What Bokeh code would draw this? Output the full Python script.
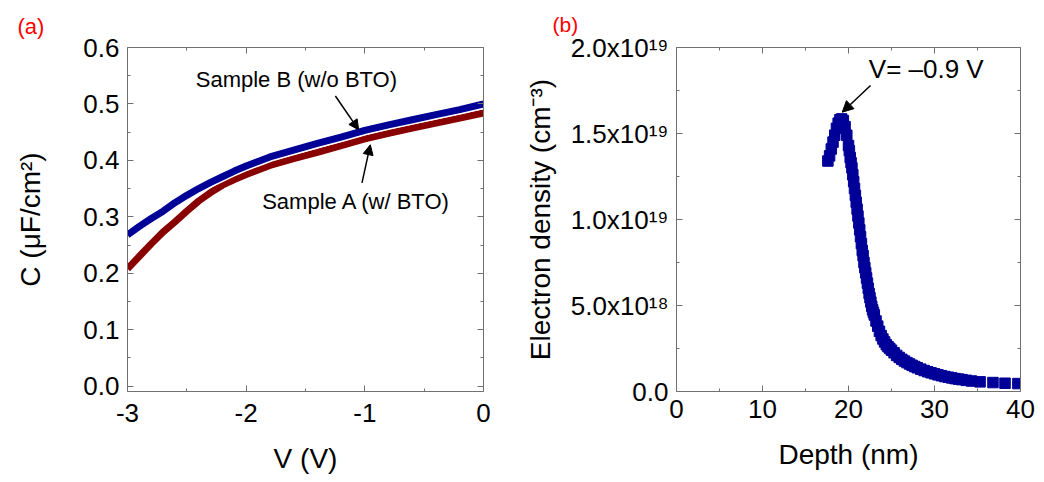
from bokeh.plotting import figure
from bokeh.layouts import row
from bokeh.models import FixedTicker, LinearAxis, Range1d, Label, Arrow, NormalHead, Title
from bokeh.embed import file_html
from bokeh.resources import INLINE

FONT = "'Liberation Sans', Arial, sans-serif"

# ---------------- data: panel (a) C-V ----------------
voltage = [-3.0, -2.9, -2.8, -2.7, -2.6, -2.5, -2.4, -2.3, -2.2, -2.1, -2.0, -1.9, -1.8,
           -1.6, -1.4, -1.2, -1.0, -0.8, -0.6, -0.4, -0.2, 0.0]
cap_sample_b = [0.268, 0.283, 0.297, 0.310, 0.325, 0.338, 0.350, 0.361, 0.371, 0.381, 0.390,
                0.398, 0.406, 0.418, 0.430, 0.441, 0.453, 0.463, 0.472, 0.481, 0.490, 0.500]
cap_sample_a = [0.208, 0.230, 0.252, 0.273, 0.291, 0.310, 0.328, 0.343, 0.356, 0.366, 0.375,
                0.383, 0.391, 0.403, 0.414, 0.426, 0.438, 0.448, 0.457, 0.466, 0.475, 0.484]

# ---------------- data: panel (b) electron density (units of 1e18 cm^-3) ----------------
depth_nm = [17.6, 17.8, 18.0, 18.2, 18.4, 18.6, 18.8, 19.0, 19.2, 19.4, 19.6, 19.8, 20.0,
            20.1, 20.2, 20.3, 20.4, 20.5, 20.6, 20.7, 20.8, 20.9, 21.0, 21.1, 21.2, 21.3,
            21.4, 21.5, 21.6, 21.7, 21.8, 21.9, 22.0, 22.1, 22.2, 22.3, 22.4, 22.5, 22.6,
            22.7, 22.8, 22.9, 23.0, 23.2, 23.4, 23.6, 23.8, 24.0, 24.2, 24.4, 24.6, 24.8,
            25.0, 25.3, 25.6, 25.9, 26.2, 26.5, 26.8, 27.1, 27.4, 27.7, 28.0, 28.4, 28.8,
            29.2, 29.6, 30.0, 30.4, 30.8, 31.2, 31.6, 32.0, 32.4, 32.8, 33.2, 33.7, 34.3,
            35.3, 36.8, 38.2, 39.7]
density_1e18 = [13.4, 13.7, 14.1, 14.5, 14.9, 15.3, 15.6, 15.8, 15.85, 15.75, 15.4, 14.9, 14.3,
                14.0, 13.6, 13.3, 13.0, 12.6, 12.2, 11.8, 11.4, 11.0, 10.6, 10.2, 9.8, 9.4,
                9.0, 8.6, 8.2, 7.9, 7.5, 7.2, 6.9, 6.6, 6.3, 6.0, 5.7, 5.45, 5.2,
                4.95, 4.75, 4.6, 4.45, 4.1, 3.8, 3.5, 3.25, 3.05, 2.88, 2.72, 2.6, 2.5,
                2.4, 2.25, 2.1, 1.98, 1.87, 1.77, 1.68, 1.6, 1.52, 1.45, 1.38, 1.3, 1.22,
                1.15, 1.09, 1.03, 0.97, 0.92, 0.87, 0.83, 0.79, 0.75, 0.72, 0.69, 0.65, 0.61,
                0.56, 0.52, 0.48, 0.46]

# ---------------- ticks ----------------
a_x_major = [-3, -2, -1, 0]
a_x_minor = [-2.5, -1.5, -0.5]
a_x_labels = ["-3", "-2", "-1", "0"]
a_y_major = [0.0, 0.1, 0.2, 0.3, 0.4, 0.5, 0.6]
a_y_minor = [0.05, 0.15, 0.25, 0.35, 0.45, 0.55]
a_y_labels = ["0.0", "0.1", "0.2", "0.3", "0.4", "0.5", "0.6"]
b_x_major = [0, 10, 20, 30, 40]
b_x_minor = [5, 15, 25, 35]
b_x_labels = ["0", "10", "20", "30", "40"]
b_y_major = [0, 5, 10, 15, 20]
b_y_minor = [2.5, 7.5, 12.5, 17.5]
b_y_labels = ["0.0", "5.0x10\u00b9\u2078", "1.0x10\u00b9\u2079", "1.5x10\u00b9\u2079", "2.0x10\u00b9\u2079"]

AX_COLOR = "#707070"


def style_axis(ax, major, minor, labels=None):
    ax.ticker = FixedTicker(ticks=major, minor_ticks=minor)
    ax.axis_line_color = AX_COLOR
    ax.major_tick_line_color = AX_COLOR
    ax.minor_tick_line_color = AX_COLOR
    ax.major_tick_in = 6
    ax.major_tick_out = 0
    ax.minor_tick_in = 3
    ax.minor_tick_out = 0
    ax.major_label_text_font = FONT
    ax.axis_label_text_font = FONT
    ax.axis_label_text_font_style = "normal"
    ax.axis_label_text_color = "black"
    ax.axis_label_text_font_size = "28px"
    if labels is not None:
        ax.major_label_text_color = "black"
        ax.major_label_text_font_size = "26px"
        ax.major_label_overrides = {v: s for v, s in zip(major, labels)}
    else:
        ax.major_label_text_color = None
        ax.major_label_text_font_size = "0px"
        ax.major_label_standoff = 0


def make_fig(width, xr, yr, bl, br, bt, bb, tag, tag_offset, tag_standoff, tag_size):
    p = figure(width=width, height=482, x_range=xr, y_range=yr,
               output_backend="svg", toolbar_location=None,
               min_border_left=bl, min_border_right=br,
               min_border_top=bt, min_border_bottom=bb)
    p.title = Title(text=tag, align="left", vertical_align="top",
                    offset=tag_offset, standoff=tag_standoff,
                    text_color="#ff0000", text_font=FONT, text_font_size=tag_size,
                    text_font_style="normal")
    p.grid.visible = False
    p.outline_line_color = None
    p.background_fill_color = "white"
    p.border_fill_color = "white"
    return p


# ================= panel (a) =================
pa = make_fig(520, Range1d(-3, 0), Range1d(-0.0096, 0.6), 127, 37, 47, 80,
              "(a)", -110, 14, "22px")
style_axis(pa.xaxis[0], a_x_major, a_x_minor, a_x_labels)
style_axis(pa.yaxis[0], a_y_major, a_y_minor, a_y_labels)
pa.xaxis[0].axis_label = "V (V)"
pa.yaxis[0].axis_label = "C (\u03bcF/cm\u00b2)"
pa.xaxis[0].major_label_standoff = 12
pa.xaxis[0].axis_label_standoff = 18
pa.yaxis[0].major_label_standoff = 8
pa.yaxis[0].axis_label_standoff = 34
top_a = LinearAxis()
right_a = LinearAxis()
style_axis(top_a, a_x_major, a_x_minor)
style_axis(right_a, a_y_major, a_y_minor)
pa.add_layout(top_a, "above")
pa.add_layout(right_a, "right")

pa.line(voltage, cap_sample_a, line_color="#880000", line_width=7)
pa.line(voltage, cap_sample_b, line_color="white", line_width=10)
pa.line(voltage, cap_sample_b, line_color="#000096", line_width=7)

pa.add_layout(Label(x=-2.425, y=0.543, text="Sample B (w/o BTO)", text_font=FONT,
                    text_font_size="22px", text_baseline="middle", text_align="left",
                    text_color="black"))
pa.add_layout(Label(x=-1.865, y=0.327, text="Sample A (w/ BTO)", text_font=FONT,
                    text_font_size="22px", text_baseline="middle", text_align="left",
                    text_color="black"))
pa.add_layout(Arrow(end=NormalHead(size=10, fill_color="black", line_color="black"),
                    x_start=-1.248, y_start=0.514, x_end=-1.052, y_end=0.454,
                    line_width=1.5, line_color="black"))
pa.add_layout(Arrow(end=NormalHead(size=10, fill_color="black", line_color="black"),
                    x_start=-1.024, y_start=0.36, x_end=-0.954, y_end=0.4276,
                    line_width=1.5, line_color="black"))

# ================= panel (b) =================
pb = make_fig(524, Range1d(0, 40), Range1d(0, 20), 156, 24, 47, 91,
              "(b)", -124, 19, "21px")
style_axis(pb.xaxis[0], b_x_major, b_x_minor, b_x_labels)
style_axis(pb.yaxis[0], b_y_major, b_y_minor, b_y_labels)
pb.xaxis[0].axis_label = "Depth (nm)"
pb.yaxis[0].axis_label = "Electron density (cm\u207b\u00b3)"
pb.xaxis[0].major_label_standoff = 8
pb.xaxis[0].axis_label_standoff = 18
pb.yaxis[0].major_label_standoff = 8
pb.yaxis[0].axis_label_standoff = 12
top_b = LinearAxis()
right_b = LinearAxis()
style_axis(top_b, b_x_major, b_x_minor)
style_axis(right_b, b_y_major, b_y_minor)
pb.add_layout(top_b, "above")
pb.add_layout(right_b, "right")

pb.scatter(depth_nm, density_1e18, marker="square", size=10.5,
           fill_color="#000099", line_color="#000099")

pb.add_layout(Label(x=22.36, y=18.75, text="V= \u20130.9 V", text_font=FONT,
                    text_font_size="26px", text_baseline="middle", text_align="left",
                    text_color="black"))
pb.add_layout(Arrow(end=NormalHead(size=11, fill_color="black", line_color="black"),
                    x_start=22.56, y_start=17.79, x_end=19.27, y_end=16.24,
                    line_width=1.5, line_color="black"))

layout = row(pa, pb, spacing=0)
open("out.html", "w").write(file_html(layout, INLINE))
